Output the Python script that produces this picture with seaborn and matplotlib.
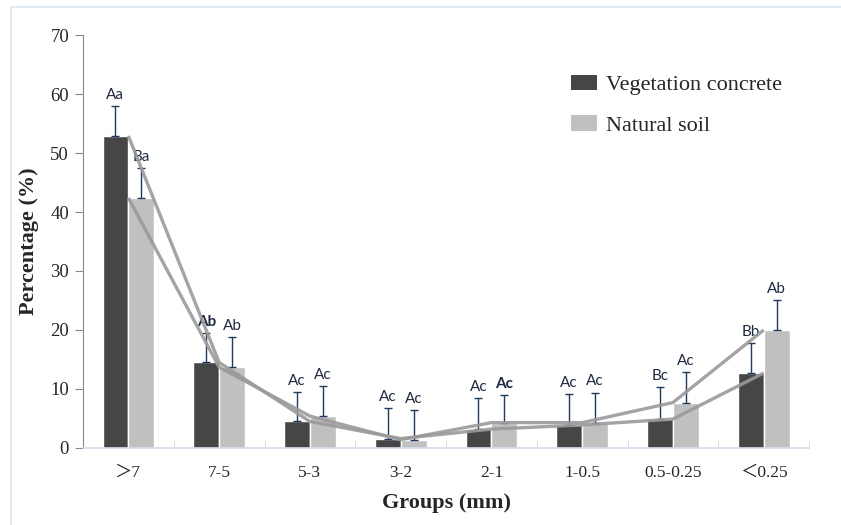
import matplotlib
matplotlib.use("Agg")
import matplotlib.pyplot as plt
from matplotlib.lines import Line2D
from matplotlib.patches import Patch
import numpy as np
import pandas as pd
import seaborn as sns

groups = ["＞7", "7-5", "5-3", "3-2", "2-1", "1-0.5", "0.5-0.25", "＜0.25"]
series = ["Vegetation concrete", "Natural soil"]
veg = [52.9, 14.5, 4.5, 1.6, 3.2, 3.9, 4.9, 12.7]
veg_err = [5.1, 5.0, 5.0, 5.1, 5.2, 5.3, 5.4, 5.1]
soil = [42.4, 13.7, 5.4, 1.4, 4.3, 4.3, 7.7, 20.0]
soil_err = [5.0, 5.1, 5.1, 5.0, 4.7, 5.1, 5.1, 5.0]
veg_letters = ["Aa", "Ab", "Ac", "Ac", "Ac", "Ac", "Bc", "Bb"]
soil_letters = ["Ba", "Ab", "Ac", "Ac", "Ac", "Ac", "Ac", "Ab"]
bold_labels = [(0, 1), (1, 4)]

df = pd.DataFrame({
    "group": groups * 2,
    "series": [series[0]] * len(groups) + [series[1]] * len(groups),
    "value": veg + soil,
})

sns.set_style("white")
plt.rcParams["font.family"] = ["Liberation Serif", "Noto Sans CJK SC"]

fig = plt.figure(figsize=(8.41, 5.25), dpi=100)
ax = fig.add_axes([0.0987, 0.1467, 0.8633, 0.7866])

colors = ["#464646", "#c0c0c0"]
sns.barplot(data=df, x="group", y="value", hue="series", palette=colors,
            width=0.57, ax=ax, legend=False, saturation=1)

err_color = "#1f3a60"
text_color = "#1f2a44"
for si, (cont, vals, errs, letters) in enumerate(zip(ax.containers, [veg, soil],
                                                     [veg_err, soil_err],
                                                     [veg_letters, soil_letters])):
    xs = [p.get_x() + p.get_width() / 2 for p in cont.patches]
    ax.errorbar(xs, vals, yerr=[np.zeros(len(vals)), errs], fmt="none",
                ecolor=err_color, elinewidth=1, capsize=3, capthick=1, zorder=3)
    for i, (x, v, e, lab) in enumerate(zip(xs, vals, errs, letters)):
        w = "bold" if (si, i) in bold_labels else "normal"
        ax.text(x, v + e + 0.7, lab, ha="center", va="bottom", fontsize=11,
                color=text_color, family=["Lato", "DejaVu Sans"], fontweight=w)

xc = np.arange(len(groups))
ax.plot(xc, veg, color="#9a9a9a", lw=2.4, alpha=0.9, zorder=4, solid_capstyle="butt")
ax.plot(xc, soil, color="#9a9a9a", lw=2.4, alpha=0.9, zorder=4, solid_capstyle="butt")

ax.set_xlim(-0.5, len(groups) - 0.5)
ax.set_ylim(0, 70)
ax.set_yticks(range(0, 71, 10))
ax.set_xticks(xc)
ax.set_xticklabels(groups)
ax.set_xticks(np.arange(-0.5, len(groups), 1), minor=True)

for s in ["top", "right"]:
    ax.spines[s].set_visible(False)
ax.spines["left"].set_color("#888888")
ax.spines["bottom"].set_color("#d3dcea")
ax.spines["bottom"].set_linewidth(1.2)
ax.tick_params(axis="y", direction="out", length=6, color="#888888",
               labelsize=13.5, pad=4, left=True)
ax.tick_params(axis="x", which="major", length=0, labelsize=12.5, pad=12)
ax.tick_params(axis="x", which="minor", direction="in", length=6,
               color="#d3dcea", bottom=True)

ax.set_xlabel("Groups (mm)", fontsize=16, fontweight="bold", labelpad=9)
ax.set_ylabel("Percentage (%)", fontsize=16, fontweight="bold", labelpad=8)

handles = [Patch(facecolor=c, edgecolor="none") for c in colors]
ax.legend(handles, series, loc="upper left", bbox_to_anchor=(0.66, 0.925),
          frameon=False, fontsize=16, handlelength=1.15, handleheight=0.7,
          handletextpad=0.4, labelspacing=0.9, borderaxespad=0)

fig.add_artist(Line2D([11 / 841, 1], [1 - 7 / 525, 1 - 7 / 525],
                      transform=fig.transFigure, color="#dde5f0", lw=1.2))
fig.add_artist(Line2D([11 / 841, 11 / 841], [0, 1 - 7 / 525],
                      transform=fig.transFigure, color="#dde5f0", lw=1.2))

fig.savefig("out.png", dpi=100)
